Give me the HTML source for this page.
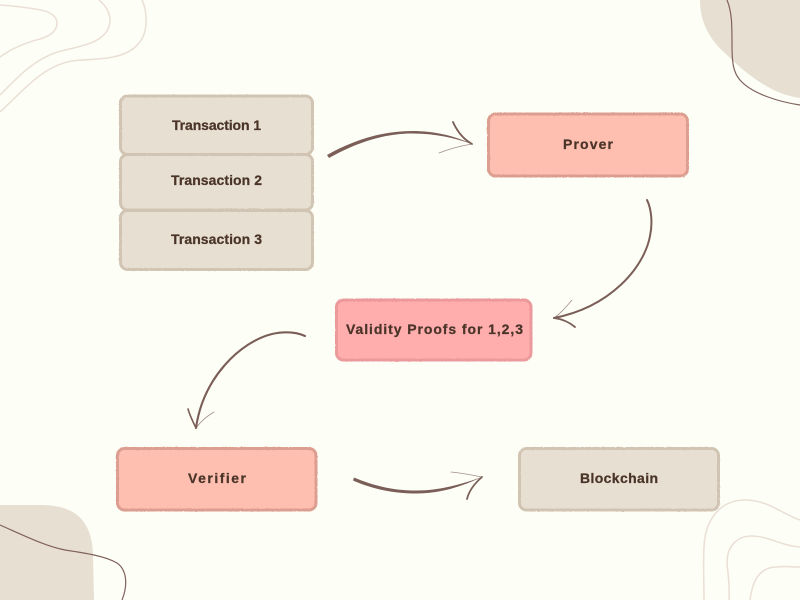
<!DOCTYPE html>
<html>
<head>
<meta charset="utf-8">
<style>
html,body{margin:0;padding:0;background:#FDFFF7}
svg{display:block}
text{font-family:"Liberation Sans",sans-serif;font-weight:700;font-size:14px;fill:#4A3428;stroke:#4A3428;stroke-width:.25px}
</style>
</head>
<body>
<svg width="800" height="600" viewBox="0 0 800 600" xmlns="http://www.w3.org/2000/svg">
<defs>
<filter id="rough" x="-5%" y="-10%" width="110%" height="120%">
<feTurbulence type="fractalNoise" baseFrequency="0.6" numOctaves="2" seed="4" result="n"/>
<feDisplacementMap in="SourceGraphic" in2="n" scale="1.300"/>
</filter>
</defs>
<rect width="800" height="600" fill="#FDFFF7"/>

<!-- Corner decoration -->
<path d="M700 0C700 25 712 42 727 55C750 78 775 95 800 98V0Z" fill="#E8DFD3"/>
<path d="M727 0C732 12 732 25 732 45C732 62 733 72 740 80C752 94 780 102 800 105" fill="none" stroke="#7F625C" stroke-width="1.200"/>
<path d="M0 505H40C75 505 92 520 93 555L94 600H0Z" fill="#E8DFD3"/>
<path d="M0 525C25 536 45 546 65 550C85 553 105 556 117 563C127 570 128 585 122 600" fill="none" stroke="#7F625C" stroke-width="1.200"/>

<g fill="none" stroke="#EBE0D5" stroke-width="1.600">
<path d="M0 5C15 6 30 8 41 10C51 12 57 17 57 23C57 31 50 36 40 39C24 43 11 49 0 57"/>
<path d="M99 0C106 6 110 13 110 20C110 33 99 41 85 45C72 49 62 50 52 54C30 63 15 80 0 95"/>
<path d="M142 0C145 6 146.500 14 146 24C145 42 133 53 113 57C100 60 85 59 72 61C42 66 22 92 0 112"/>
<path d="M704 600C704 580 703 565 704 547C705 520 720 500 745 500C768 500 782 514 800 520"/>
<path d="M729 600C730 585 728 575 727 563C727 545 738 536 752 536C768 536 782 546 800 547"/>
<path d="M750 600C752 585 757 567 777 567C785 566 792 567 800 567"/>
</g>

<!-- Boxes -->
<g stroke-width="3" filter="url(#rough)">
<rect x="120.500" y="96" width="192" height="58.500" rx="7" fill="#E8DFD3" stroke="#D1C4B3"/>
<rect x="120.500" y="154.500" width="192" height="55.500" rx="7" fill="#E8DFD3" stroke="#D1C4B3"/>
<rect x="120.500" y="210.500" width="192" height="59" rx="7" fill="#E8DFD3" stroke="#D1C4B3"/>
<rect x="488.500" y="114" width="199" height="62" rx="7" fill="#FFBFB0" stroke="#DC9E90"/>
<rect x="336.500" y="300" width="194.500" height="60" rx="7" fill="#FFADAD" stroke="#EB999B"/>
<rect x="117.500" y="448.500" width="198.500" height="61.500" rx="7" fill="#FFBFB0" stroke="#DC9E90"/>
<rect x="519.500" y="448.500" width="199" height="61.500" rx="7" fill="#E8DFD3" stroke="#D1C4B3"/>
</g>

<!-- Labels -->
<text x="172" y="130" textLength="89" lengthAdjust="spacing">Transaction 1</text>
<text x="171" y="185" textLength="91" lengthAdjust="spacing">Transaction 2</text>
<text x="171" y="244" textLength="91" lengthAdjust="spacing">Transaction 3</text>
<text x="563" y="149" textLength="50" lengthAdjust="spacing">Prover</text>
<text x="346" y="334" textLength="177" lengthAdjust="spacing">Validity Proofs for 1,2,3</text>
<text x="188" y="483" textLength="58" lengthAdjust="spacing">Verifier</text>
<text x="580" y="483" textLength="78" lengthAdjust="spacing">Blockchain</text>

<!-- Arrows -->
<path d="M327 155C352 141 381 131 412 131C435 131 455 136 472 144C455 138 435 133.500 412 133.500C382 133.500 354 144 329 158Z" fill="#7A5E57"/>
<path d="M354 477.500C380 488.500 400 490.500 417 490.500C440 490.500 462 484 482 477C462 486.500 440 493.500 417 493.500C400 493.500 378 491.500 353 480.500Z" fill="#7A5E57"/>
<g fill="none" stroke="#7A5E57" stroke-linecap="round">
<path d="M453 122C457 131 463 139 472 144" stroke-width="1.800"/>
<path d="M472 144C460 146 449 149 439 153" stroke-width=".8" opacity=".7"/>

<path d="M647 200C651 208 653 222 650 236C644 268 610 307 554 318" stroke-width="2"/>
<path d="M572 300C566 307 561 313 554 318" stroke-width=".8" opacity=".7"/>
<path d="M554 318C562 319 569 322 575 327" stroke-width="1.800"/>

<path d="M305 336C296 332 286 331 272 334C240 342 203 378 196 428" stroke-width="2.100"/>
<path d="M188 409C190 416 193 422 196 428" stroke-width="1.600"/>
<path d="M196 428C201 421 207 416 214 412" stroke-width=".8" opacity=".7"/>

<path d="M451 472C461 473 472 475 482 477" stroke-width=".8" opacity=".7"/>
<path d="M482 477C475 483 469 491 467 499" stroke-width="1.800"/>
</g>
</svg>
</body>
</html>
